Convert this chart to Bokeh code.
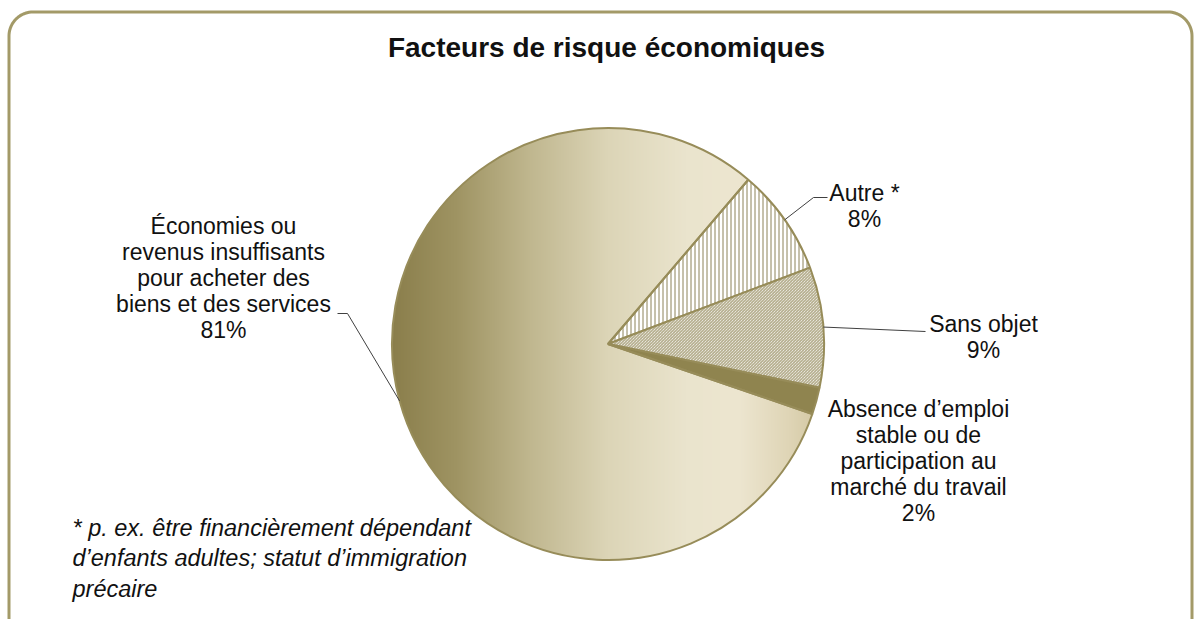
import numpy as np
from bokeh.plotting import figure
from bokeh.models import Range1d, ColumnDataSource
from bokeh.core.properties import value
from bokeh.embed import file_html
from bokeh.resources import INLINE

# ---------------- data ----------------
title = "Facteurs de risque économiques"
category_lines = [
    ["Autre *"],
    ["Sans objet"],
    ["Absence d’emploi", "stable ou de", "participation au", "marché du travail"],
    ["Économies ou", "revenus insuffisants", "pour acheter des", "biens et des services"],
]
values = [8, 9, 2, 81]
footnote = ["* p. ex. être financièrement dépendant",
            "d’enfants adultes; statut d’immigration",
            "précaire"]

# ---------------- layout / style ----------------
W, H = 1197, 619
def X(sx):  # screen px -> data
    return sx
def Y(sy):
    return H - sy

cx, cy, R = X(607.5), Y(343.5), 216.0
start_deg = 49.5
FONT = "Liberation Sans"
OLIVE_LINE = "#978c59"
FRAME = "#a39a68"

p = figure(width=W, height=H, output_backend="svg", toolbar_location=None,
           x_range=Range1d(0, W), y_range=Range1d(0, H),
           x_axis_type=None, y_axis_type=None, min_border=0,
           background_fill_color="white", border_fill_color="white")
p.outline_line_color = None
p.grid.visible = False

# rounded frame (bottom runs off the page)
fl, ft, fr, fb, rad = X(8.5), Y(11.5), X(1191.5), Y(680), 24
t = np.linspace(0, np.pi / 2, 20)
fx = np.concatenate([[fl], fl + rad - rad * np.cos(t), fr - rad + rad * np.sin(t), [fr]])
fy = np.concatenate([[fb], ft - rad + rad * np.sin(t), ft - rad + rad * np.cos(t), [fb]])
p.line(fx, fy, line_color=FRAME, line_width=3)

# gradient disc for the large slice (horizontal gradient)
stops = [(0.0, (0x8a, 0x7e, 0x4b)), (0.15, (0x9f, 0x94, 0x63)), (0.32, (0xc0, 0xb7, 0x8f)),
         (0.5, (0xdc, 0xd5, 0xb7)), (0.68, (0xea, 0xe4, 0xcd)), (0.8, (0xed, 0xe6, 0xd0)),
         (0.92, (0xdf, 0xd5, 0xb6)), (1.0, (0xd0, 0xc4, 0x9f))]
N = int(2 * R)
u = (np.arange(N) + 0.5) / N
sp = np.array([s[0] for s in stops])
cols = np.array([s[1] for s in stops], dtype=float)
rgb = np.stack([np.interp(u, sp, cols[:, k]) for k in range(3)], axis=1)
yy, xx = np.mgrid[0:N, 0:N]
d = np.hypot(xx + 0.5 - N / 2, yy + 0.5 - N / 2)
img = np.zeros((N, N, 4), dtype=np.uint8)
img[..., 0] = rgb[xx, 0]
img[..., 1] = rgb[xx, 1]
img[..., 2] = rgb[xx, 2]
img[..., 3] = np.where(d <= N / 2, 255, 0)
p.image_rgba(image=[img.view(dtype=np.uint32).reshape(N, N)], x=cx - R, y=cy - R, dw=2 * R, dh=2 * R)

# wedges
vals = np.array(values, dtype=float)
cum = np.concatenate([[0], np.cumsum(vals)[:-1]])
starts = np.deg2rad(start_deg - cum * 3.6)
ends = np.deg2rad(start_deg - (cum + vals) * 3.6)
mids = (starts + ends) / 2
src = ColumnDataSource(dict(
    start=starts, end=ends,
    fill=["white", "white", "#8f844f", "#ffffff"],
    falpha=[1, 1, 1, 0],
    hatch=["|", "\\", " ", " "],
    hscale=[4.0, 3.0, 4.0, 4.0],
    hcolor=["#8c8258", "#a39a72", "#8c8258", "#8c8258"],
))
p.wedge(x=cx, y=cy, radius=R, start_angle="start", end_angle="end", direction="clock",
        fill_color="fill", fill_alpha="falpha", hatch_pattern="hatch", hatch_scale="hscale",
        hatch_color="hcolor", hatch_weight=1,
        line_color=OLIVE_LINE, line_width=2, source=src)

# leader lines (from slice mid-angle on the rim)
def rim(i):
    return cx + R * np.cos(mids[i]), cy + R * np.sin(mids[i])
lead_xs, lead_ys = [], []
x0, y0 = rim(0)
lead_xs.append([x0, X(813), X(827)]); lead_ys.append([y0, Y(197), Y(197)])
x0, y0 = rim(1)
lead_xs.append([x0, X(925)]); lead_ys.append([y0, Y(331)])
x0, y0 = rim(3)
lead_xs.append([x0, X(347), X(337)]); lead_ys.append([y0, Y(313), Y(313)])
p.multi_line(lead_xs, lead_ys, line_color="#404040", line_width=1)

# labels
labels = ["\n".join(l + [f"{v}%"]) for l, v in zip(category_lines, values)]
lab_x = [X(864), X(983), X(918), X(223)]
lab_y = [Y(205), Y(336), Y(460), Y(277)]
p.text(x=lab_x, y=lab_y, text=labels, text_font=value(FONT), text_font_size="23px",
       text_align="center", text_baseline="middle", text_line_height=1.0, text_color="#111111")

# title
p.text(x=[X(606)], y=[Y(47)], text=[title], text_font=value(FONT), text_font_size="28px",
       text_font_style="bold", text_align="center", text_baseline="middle", text_color="#111111")

# footnote
p.text(x=[X(72)], y=[Y(558)], text=["\n".join(footnote)], text_font=value(FONT),
       text_font_size="23.5px", text_font_style="italic", text_align="left",
       text_baseline="middle", text_line_height=1.17, text_color="#111111")

open("out.html", "w").write(file_html(p, INLINE))
